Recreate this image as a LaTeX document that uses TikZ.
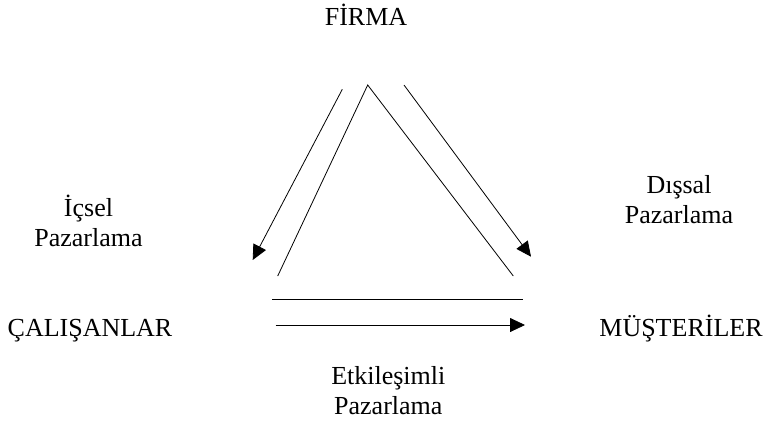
\documentclass[tikz,border=0pt]{standalone}
\usepackage{fontspec}
\setmainfont{Liberation Serif}
\usetikzlibrary{arrows.meta}
\begin{document}
\begin{tikzpicture}[x=1pt,y=-1pt,
  lbl/.style={inner sep=0pt,anchor=base,font=\fontsize{26}{30}\selectfont},
  edge/.style={line width=0.8pt,black},
  arr/.style={edge,-{Triangle[length=15pt,width=14pt]}}]
\useasboundingbox (0,0) rectangle (766,424);
% labels
\node[lbl] (firma) at (366,25) {FİRMA};
\node[lbl] (calisan) at (90,336) {ÇALIŞANLAR};
\node[lbl] (muster) at (681,336) {MÜŞTERİLER};
\node[lbl] (icsel1) at (88.5,216.7) {İçsel};
\node[lbl] (icsel2) at (88.5,246.7) {Pazarlama};
\node[lbl] (dissal1) at (679,193.3) {Dışsal};
\node[lbl] (dissal2) at (679,223.3) {Pazarlama};
\node[lbl] (etk1) at (388.3,384) {Etkileşimli};
\node[lbl] (etk2) at (388.3,414.5) {Pazarlama};
% coordinates
\coordinate (apex) at (367.7,85);
\coordinate (lb) at (277.7,276);
\coordinate (rb) at (513.3,276);
\coordinate (la1) at (342.3,89.3);
\coordinate (la2) at (252.7,260);
\coordinate (ra1) at (404,85);
\coordinate (ra2) at (531,256.7);
\coordinate (bl1) at (272.3,299);
\coordinate (bl2) at (522.7,299);
\coordinate (ba1) at (275.7,325);
\coordinate (ba2) at (525,325);
% triangle
\draw[edge] (lb) -- (apex) -- (rb);
\draw[edge] (bl1) -- (bl2);
% arrows
\draw[arr] (la1) -- (la2);
\draw[arr] (ra1) -- (ra2);
\draw[arr] (ba1) -- (ba2);
\end{tikzpicture}
\end{document}
